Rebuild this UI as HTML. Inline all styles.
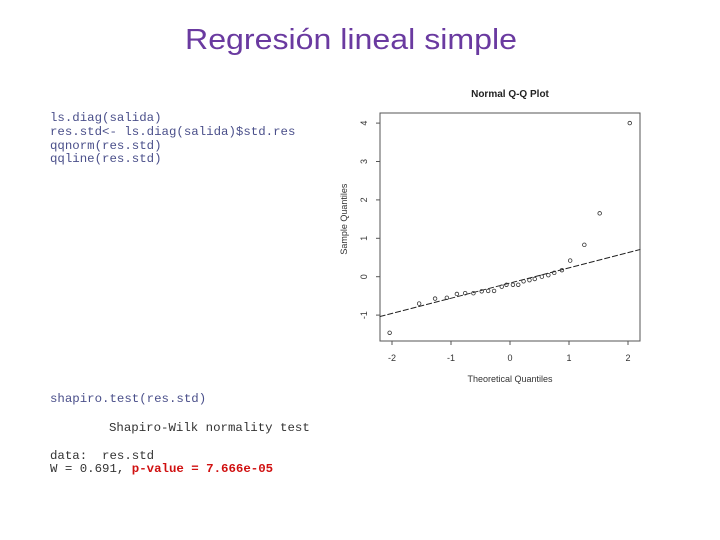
<!DOCTYPE html>
<html><head><meta charset="utf-8"><style>
html,body{margin:0;padding:0;background:#fff;}
svg{display:block;}
.code{font-family:"Liberation Mono",monospace;font-size:12.4px;fill:#4a4f8a;}
.out{font-family:"Liberation Mono",monospace;font-size:12.4px;fill:#333;}
.ax{font-family:"Liberation Sans",sans-serif;font-size:9px;fill:#333;}
</style></head><body>
<svg id="page" width="720" height="540" xmlns="http://www.w3.org/2000/svg">
<text x="185" y="49" font-family="'Liberation Sans',sans-serif" font-size="29" fill="#6a3aa0" textLength="332" lengthAdjust="spacingAndGlyphs">Regresión lineal simple</text>
<g>
<text class="code" x="50" y="121">ls.diag(salida)</text>
<text class="code" x="50" y="135">res.std&lt;- ls.diag(salida)$std.res</text>
<text class="code" x="50" y="149">qqnorm(res.std)</text>
<text class="code" x="50" y="162">qqline(res.std)</text>
</g>
<g>
<text class="code" x="50" y="402">shapiro.test(res.std)</text>
<text class="out" x="109" y="431">Shapiro-Wilk normality test</text>
<text class="out" x="50" y="459">data:&#160;&#160;res.std</text>
<text class="out" x="50" y="472">W = 0.691, <tspan fill="#d01010" font-weight="bold">p-value = 7.666e-05</tspan></text>
</g>
<g id="chart"></g>
</svg>
<script>
const theoretical=[-2.04,-1.54,-1.27,-1.07,-0.90,-0.76,-0.62,-0.48,-0.37,-0.27,-0.14,-0.06,0.05,0.14,0.23,0.33,0.42,0.54,0.65,0.75,0.88,1.02,1.26,1.52,2.03];
const sample=[-1.46,-0.70,-0.57,-0.55,-0.45,-0.43,-0.43,-0.38,-0.37,-0.37,-0.26,-0.21,-0.21,-0.21,-0.12,-0.09,-0.06,0,0.04,0.10,0.17,0.42,0.83,1.65,4.0];
const xTicks=[-2,-1,0,1,2];
const yTicks=[-1,0,1,2,3,4];
const lineSlope=[0.396];
const lineIntercept=[-0.165];
const xDomain=[-2.21,2.21];
const NS='http://www.w3.org/2000/svg';
const L=380,R=640,T=113,B=341;
const sx=v=>510+v*59;
const sy=v=>276.7-v*38.4;
const g=document.getElementById('chart');
function mk(t,a,p){const e=document.createElementNS(NS,t);for(const k in a)e.setAttribute(k,a[k]);(p||g).appendChild(e);return e;}
let e=mk('text',{x:510,y:97,'text-anchor':'middle','font-family':'Liberation Sans,sans-serif','font-size':10,'font-weight':'bold',fill:'#222'});
e.textContent='Normal Q-Q Plot';


e=mk('rect',{x:L,y:T,width:R-L,height:B-T,fill:'none',stroke:'#555','stroke-width':1});


xTicks.forEach(v=>{
 const t=mk('line',{x1:sx(v),x2:sx(v),y1:B,y2:B+4,stroke:'#555'});
 
 
 const l=mk('text',{x:sx(v),y:B+20,'text-anchor':'middle',class:'ax'});
 l.textContent=v;
 
 
});
yTicks.forEach(v=>{
 const t=mk('line',{x1:L-4,x2:L,y1:sy(v),y2:sy(v),stroke:'#555'});
 
 
 const l=mk('text',{x:0,y:0,'text-anchor':'middle',class:'ax',transform:`translate(${L-13},${sy(v)}) rotate(-90)`});
 l.textContent=v;
 
 
});
e=mk('text',{x:510,y:382,'text-anchor':'middle',class:'ax'});
e.textContent='Theoretical Quantiles';


e=mk('text',{x:0,y:0,'text-anchor':'middle',class:'ax',transform:`translate(347,${sy(1.5)}) rotate(-90)`});
e.textContent='Sample Quantiles';


e=mk('line',{x1:sx(xDomain[0]),y1:sy(lineIntercept[0]+lineSlope[0]*xDomain[0]),x2:sx(xDomain[1]),y2:sy(lineIntercept[0]+lineSlope[0]*xDomain[1]),stroke:'#222','stroke-width':1,'stroke-dasharray':'6 2'});


theoretical.forEach((x,i)=>{
 const c=mk('circle',{cx:sx(x),cy:sy(sample[i]),r:1.8,fill:'none',stroke:'#333','stroke-width':0.8});
 
 
});
</script>
</body></html>
